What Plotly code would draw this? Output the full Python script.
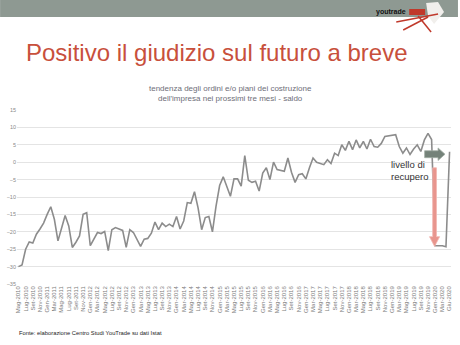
import plotly.graph_objects as go

MESI = ["Gen", "Feb", "Mar", "Apr", "Mag", "Giu", "Lug", "Ago", "Set", "Ott", "Nov", "Dic"]

# monthly categories Mag-2010 .. Giu-2020 (Apr-2020 not surveyed)
categories = []
for anno in range(2010, 2021):
    for m, nome in enumerate(MESI):
        if anno == 2010 and m < 4:
            continue
        if anno == 2020 and (m == 3 or m > 5):
            continue
        categories.append(f"{nome}-{anno}")

saldo = [
    -30, -29.5, -25, -22.9, -23.2, -20.7, -19.2, -17.5, -15, -12.8,
    -16.4, -22.6, -19, -15.3, -18.3, -24.5, -23, -21.2, -15, -14.5,
    -24, -22, -20.2, -20.5, -19.9, -25.4, -19.4, -18.8, -19.2, -19.6,
    -24.5, -19.4, -20.2, -22.3, -24.2, -22.1, -21.9, -20.4, -17.2, -19.4,
    -17.5, -18.5, -17.8, -18.5, -15.6, -19.2, -16.9, -11.6, -11.8, -8.5,
    -13.1, -19.4, -15.9, -15.6, -20, -12.6, -6.7, -4.2, -7, -9.8,
    -4.8, -4.8, -6.9, 1.9, -5.2, -5.8, -5.5, -8.3, -3.1, -1.6,
    -5, 0, -2.1, -2.3, -2.6, 1.2, -2.9, -5.8, -3.6, -3.3,
    -4.8, -1.6, 1.2, 0, -0.3, -0.7, 0.7, -0.4, 2.6, 1.9,
    5.0, 3.4, 6.0, 3.6, 6.4, 4.1, 6.0, 3.8, 6.6, 4.5,
    4.3, 5.4, 7.4, 7.6, 7.9, 7.9, 4.5, 2.6, 4.1, 2.2,
    3.8, 5.0, 3.1, 6.4, 8.3, 6.5, -24, -24, -24, -24.3,
    3,
]

tick_labels = categories[::2]
y_ticks = [15, 10, 5, 0, -5, -10, -15, -20, -25, -30, -35]

title_text = "Positivo il giudizio sul futuro a breve"
subtitle_text = ("tendenza degli ordini e/o piani dei costruzione<br>"
                 "dell'impresa nei prossimi tre mesi - saldo")
note_text = "Fonte: elaborazione Centro Studi YouTrade su dati Istat"
callout_text = "livello di<br>recupero"

FONT = "Liberation Sans, Arial, sans-serif"
L, R, T, B = 17, 7, 110, 61
W, H = 460, 345
PW, PH = W - L - R, H - T - B


def px(x):
    return (x - L) / PW


def py(y):
    return (H - B - y) / PH


fig = go.Figure()
fig.add_trace(go.Scatter(
    x=categories, y=saldo, mode="lines",
    line=dict(color="#8c8c8c", width=1.6),
    hoverinfo="skip", showlegend=False,
))

shapes = [
    # top band
    dict(type="rect", xref="paper", yref="paper", x0=px(0), x1=px(W), y0=py(17), y1=py(0),
         fillcolor="#8e9992", line=dict(width=0), layer="below"),
    # logo pieces
    dict(type="rect", xref="paper", yref="paper", x0=px(411), x1=px(427), y0=py(15), y1=py(9),
         fillcolor="#c0392b", line=dict(width=0)),
    dict(type="path", xref="paper", yref="paper",
         path=f"M{px(428)},{py(3)} L{px(440)},{py(2)} L{px(446)},{py(12)} L{px(436)},{py(24)} L{px(430)},{py(16)} Z",
         fillcolor="#f1efec", line=dict(width=0)),
    dict(type="line", xref="paper", yref="paper", x0=px(398), y0=py(22), x1=px(440), y1=py(14),
         line=dict(color="#c0392b", width=1.5)),
    dict(type="line", xref="paper", yref="paper", x0=px(405), y0=py(30), x1=px(430), y1=py(17),
         line=dict(color="#c0392b", width=1.5)),
    dict(type="line", xref="paper", yref="paper", x0=px(420), y0=py(16), x1=px(433), y1=py(32),
         line=dict(color="#c0392b", width=1.5)),
    # pink down arrow
    dict(type="path", xref="paper", yref="y",
         path=(f"M{px(434.6)},-1.6 L{px(438.4)},-1.6 L{px(438.4)},-21.4 L{px(441.6)},-21.4 "
               f"L{px(436.5)},-24.2 L{px(431.4)},-21.4 L{px(434.6)},-21.4 Z"),
         fillcolor="#e8958d", line=dict(color="#f2b8b2", width=0.8)),
    # gray right arrow
    dict(type="path", xref="paper", yref="y",
         path=(f"M{px(426.5)},3.3 L{px(440)},3.3 L{px(440)},4.1 L{px(447)},2.3 "
               f"L{px(440)},0.5 L{px(440)},1.3 L{px(426.5)},1.3 Z"),
         fillcolor="#748279", line=dict(color="#a3aea6", width=0.8)),
]

annotations = [
    dict(text=title_text, xref="paper", yref="paper", x=px(218), y=py(52),
         showarrow=False, font=dict(family=FONT, size=24, color="#c8503c"),
         xanchor="center", yanchor="middle"),
    dict(text=subtitle_text, xref="paper", yref="paper", x=px(231), y=py(94),
         showarrow=False, font=dict(family=FONT, size=8, color="#6e6e78"),
         xanchor="center", yanchor="middle"),
    dict(text=note_text, xref="paper", yref="paper", x=px(17), y=py(333),
         showarrow=False, font=dict(family=FONT, size=5.8, color="#222222"),
         xanchor="left", yanchor="middle"),
    dict(text=callout_text, xref="paper", yref="y", x=px(391), y=-2.4,
         showarrow=False, font=dict(family=FONT, size=9.5, color="#333333"),
         xanchor="left", yanchor="middle", align="left"),
    dict(text="<b>youtrade</b>", xref="paper", yref="paper", x=px(410), y=py(12),
         showarrow=False, font=dict(family=FONT, size=7, color="#111111"),
         xanchor="right", yanchor="middle"),
]

fig.update_layout(
    width=W, height=H,
    margin=dict(l=L, r=R, t=T, b=B, pad=0),
    paper_bgcolor="white", plot_bgcolor="white",
    font=dict(family=FONT),
    shapes=shapes, annotations=annotations,
    xaxis=dict(
        type="category", range=[-0.4, len(categories) - 1 + 0.4],
        tickmode="array", tickvals=tick_labels, ticktext=tick_labels,
        tickangle=-90, tickfont=dict(size=6, color="#7a7a7a"),
        showgrid=False, showline=False, zeroline=False, ticks="",
    ),
    yaxis=dict(
        range=[-35, 15], tickmode="array", tickvals=y_ticks,
        tickfont=dict(size=5.5, color="#8a8a8a"),
        showgrid=True, gridcolor="#e4e4e4", gridwidth=1,
        zeroline=False, showline=False, ticks="",
    ),
)

fig.write_html("out.html")
